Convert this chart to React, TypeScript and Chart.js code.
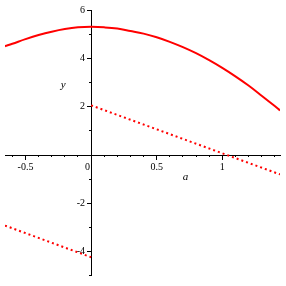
import React, { useEffect, useRef } from "react";
import { Chart, registerables } from "chart.js";

Chart.register(...registerables);

// Solid curve
const curveA = [-0.656, -0.6, -0.5, -0.4, -0.3, -0.2, -0.1, 0, 0.1, 0.2, 0.3, 0.4, 0.5, 0.6, 0.7, 0.8, 0.9, 1.0, 1.1, 1.2, 1.3, 1.4, 1.44];
const curveY = [4.51, 4.61, 4.80, 4.97, 5.11, 5.22, 5.29, 5.31, 5.29, 5.24, 5.14, 5.03, 4.88, 4.69, 4.47, 4.22, 3.93, 3.61, 3.26, 2.88, 2.46, 2.03, 1.85];

// Dotted line pieces
const dotUpperA = [0, 1.44];
const dotUpperY = [2.06, -0.8];
const dotLowerA = [-0.656, 0];
const dotLowerY = [-2.92, -4.23];

const xMin = -0.656;
const xMax = 1.44;
const yMin = -5;
const yMax = 6;

const xMajorTicks = [-0.5, 0, 0.5, 1];
const yMajorTicks = [-4, -2, 2, 4, 6];

const toPts = (xs: number[], ys: number[]) => xs.map((x, i) => ({ x, y: ys[i] }));

const labelShift = {
  id: "labelShift",
  beforeDraw(chart: any) {
    const ys = chart.scales.y;
    ys.getLabelItems().forEach((it: any) => {
      if (!it._shifted) { it.options.translation[0] -= 6; it._shifted = true; }
    });
    const xs = chart.scales.x;
    xs.getLabelItems().forEach((it: any) => {
      if (!it._shifted && it.label === "0") { it.options.translation[0] -= 3.5; it._shifted = true; }
    });
  },
  afterDraw(chart: any) {
    const { ctx, scales } = chart;
    const x0 = scales.x.getPixelForValue(0);
    const y0 = scales.y.getPixelForValue(0);
    ctx.save();
    ctx.fillStyle = "#000";
    ctx.font = "italic 11px 'Liberation Serif', serif";
    ctx.textAlign = "center";
    ctx.textBaseline = "middle";
    ctx.fillText("y", x0 - 28, scales.y.getPixelForValue(3) + 2);
    ctx.fillText("a", scales.x.getPixelForValue(0.72), y0 + 22);
    ctx.restore();
  },
};

export default function App() {
  const ref = useRef<HTMLCanvasElement | null>(null);
  useEffect(() => {
    if (!ref.current) return;
    const font = { family: "'Liberation Serif', serif", size: 10 };
    const chart = new Chart(ref.current, {
      type: "line",
      data: {
        datasets: [
          {
            data: toPts(curveA, curveY),
            borderColor: "#ff0000",
            borderWidth: 2,
            pointRadius: 0,
            tension: 0.4,
          },
          {
            data: toPts(dotUpperA, dotUpperY),
            borderColor: "#ff0000",
            borderWidth: 2,
            borderDash: [2, 3],
            pointRadius: 0,
          },
          {
            data: toPts(dotLowerA, dotLowerY),
            borderColor: "#ff0000",
            borderWidth: 2,
            borderDash: [2, 3],
            pointRadius: 0,
          },
        ],
      },
      options: {
        animation: false,
        responsive: false,
        devicePixelRatio: 1,
        layout: { padding: { left: 5, right: 6, top: 10, bottom: 5 } },
        plugins: { legend: { display: false }, tooltip: { enabled: false }, title: { display: false } },
        scales: {
          x: {
            type: "linear",
            position: { y: 0 },
            min: xMin,
            max: xMax,
            afterBuildTicks: (s: any) => { s.ticks = xMajorTicks.map((v) => ({ value: v })); },
            ticks: {
              color: "#000",
              font,
              padding: 2,
              maxRotation: 0,
              autoSkip: false,
              callback: (v: any) => String(v),
            },
            grid: { drawOnChartArea: false, drawTicks: true, tickLength: 4, color: "#000" },
            border: { display: true, color: "#000", width: 1 },
          },
          xMinor: {
            type: "linear",
            axis: "x",
            position: { y: 0 },
            min: xMin,
            max: xMax,
            ticks: { stepSize: 0.1, includeBounds: false, callback: () => "", autoSkip: false },
            grid: { drawOnChartArea: false, drawTicks: true, tickLength: 2, color: "#000" },
            border: { display: false },
          },
          y: {
            type: "linear",
            position: { x: 0 },
            min: yMin,
            max: yMax,
            afterBuildTicks: (s: any) => { s.ticks = yMajorTicks.map((v) => ({ value: v })); },
            ticks: { color: "#000", font, padding: 2, autoSkip: false, callback: (v: any) => String(v) },
            grid: { drawOnChartArea: false, drawTicks: true, tickLength: 4, color: "#000" },
            border: { display: true, color: "#000", width: 1 },
          },
          yMinor: {
            type: "linear",
            axis: "y",
            position: { x: 0 },
            min: yMin,
            max: yMax,
            ticks: { stepSize: 1, includeBounds: false, callback: () => "", autoSkip: false },
            grid: { drawOnChartArea: false, drawTicks: true, tickLength: 2, color: "#000" },
            border: { display: false },
          },
        },
      } as any,
      plugins: [labelShift],
    });
    return () => chart.destroy();
  }, []);
  return (
    <div style={{ position: "fixed", left: 0, top: 0, width: 286, height: 286, background: "#fff" }}>
      <canvas ref={ref} width={286} height={286} style={{ display: "block" }} />
    </div>
  );
}
